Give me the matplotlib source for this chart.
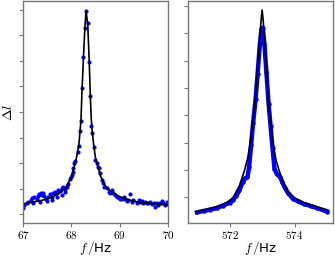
import matplotlib
matplotlib.use("Agg")
import matplotlib.pyplot as plt
from matplotlib.ticker import FuncFormatter

plt.rcParams['mathtext.fontset'] = 'cm'

# left resonance (~68.3 Hz): measured points
left_f = [67.01, 67.02, 67.08, 67.11, 67.16, 67.18, 67.21, 67.23, 67.28, 67.32,
          67.34, 67.35, 67.37, 67.40, 67.42, 67.43, 67.48, 67.49, 67.52, 67.56,
          67.59, 67.60, 67.63, 67.66, 67.70, 67.71, 67.73, 67.77, 67.80, 67.81,
          67.83, 67.86, 67.87, 67.90, 67.94, 67.97, 67.99, 68.01, 68.03, 68.04,
          68.06, 68.08, 68.13, 68.16, 68.18, 68.20, 68.22, 68.25, 68.28, 68.304,
          68.34, 68.37, 68.39, 68.41, 68.43, 68.46, 68.48, 68.53, 68.56, 68.58,
          68.59, 68.63, 68.66, 68.68, 68.73, 68.77, 68.80, 68.84, 68.87, 68.90,
          68.94, 68.97, 69.01, 69.04, 69.08, 69.11, 69.15, 69.18, 69.22, 69.25,
          69.28, 69.35, 69.39, 69.42, 69.46, 69.49, 69.53, 69.56, 69.59, 69.63,
          69.66, 69.70, 69.73, 69.77, 69.80, 69.84, 69.87, 69.90, 69.94, 69.98,
          70.01]
left_dl = [0.22, 0.35, 0.42, 0.48, 0.55, 0.64, 0.44, 0.68, 0.61, 0.71,
           0.77, 0.48, 0.81, 0.75, 0.81, 0.71, 0.61, 0.52, 0.65, 0.77,
           0.68, 0.56, 0.81, 0.87, 0.84, 0.66, 0.94, 0.91, 1.01, 0.76,
           1.05, 0.97, 0.87, 1.07, 1.18, 1.36, 1.46, 1.53, 1.66, 1.79,
           1.99, 2.08, 2.42, 2.68, 3.25, 3.66, 4.93, 6.17, 7.28, 7.97,
           7.50, 5.97, 4.63, 3.45, 3.19, 2.64, 2.12, 1.99, 1.86, 1.79,
           1.60, 1.33, 1.20, 1.07, 1.01, 0.87, 0.81, 0.94, 0.81, 0.75,
           0.65, 0.68, 0.58, 0.61, 0.65, 0.58, 0.52, 0.55, 0.78, 0.48,
           0.55, 0.44, 0.55, 0.48, 0.52, 0.44, 0.48, 0.42, 0.44, 0.48,
           0.39, 0.44, 0.29, 0.42, 0.35, 0.42, 0.52, 0.44, 0.35, 0.48,
           0.39]

# left fit curve
left_fit_f = [67.0, 67.2, 67.4, 67.6, 67.8, 67.9, 68.0, 68.06, 68.1, 68.13,
              68.16, 68.2, 68.22, 68.25, 68.28, 68.305, 68.34, 68.37, 68.39, 68.41,
              68.43, 68.46, 68.5, 68.6, 68.7, 68.8, 69.0, 69.2, 69.4, 69.7, 70.0]
left_fit_dl = [0.40, 0.47, 0.54, 0.66, 0.88, 1.08, 1.45, 1.85, 2.15, 2.45,
               2.8, 3.7, 4.8, 6.1, 7.3, 7.97, 7.4, 6.0, 4.8, 3.8,
               3.3, 2.75, 2.2, 1.5, 1.12, 0.92, 0.68, 0.55, 0.46, 0.40, 0.36]

# right resonance (~573 Hz): dense measured trace
right_f = [571.0, 571.2, 571.4, 571.6, 571.8, 572.0, 572.1, 572.2, 572.3, 572.4,
           572.48, 572.55, 572.6, 572.66, 572.72, 572.8, 572.86, 572.93, 572.98, 573.02,
           573.07, 573.13, 573.2, 573.26, 573.32, 573.38, 573.45, 573.55, 573.62, 573.7,
           573.8, 573.95, 574.1, 574.3, 574.5, 574.7, 574.9, 575.0]
right_dl = [-0.55, -0.5, -0.45, -0.4, -0.3, -0.2, -0.1, 0.05, 0.25, 0.55,
            0.7, 0.75, 1.1, 1.9, 2.7, 3.6, 4.5, 5.6, 6.15, 6.2,
            5.6, 4.6, 3.4, 2.6, 1.8, 1.05, 0.85, 0.75, 0.55, 0.35,
            0.15, -0.05, -0.15, -0.25, -0.32, -0.4, -0.48, -0.52]

# right fit curve
right_fit_f = [570.95, 571.3, 571.6, 571.9, 572.1, 572.3, 572.46, 572.56, 572.64, 572.72,
               572.8, 572.86, 572.93, 572.97, 573.0, 573.03, 573.07, 573.14, 573.2, 573.26,
               573.32, 573.42, 573.52, 573.65, 573.8, 574.0, 574.3, 574.6, 575.0]
right_fit_dl = [-0.53, -0.44, -0.34, -0.2, -0.02, 0.42, 0.99, 1.45, 2.05, 2.8,
                3.75, 4.75, 5.9, 6.5, 6.85, 6.5, 5.9, 4.75, 3.35, 2.8,
                2.05, 1.4, 0.99, 0.55, 0.2, -0.02, -0.2, -0.32, -0.47]

fig = plt.figure(figsize=(3.35, 2.57), dpi=100)
ax1 = fig.add_axes([23 / 335, 34 / 257, 145 / 335, 222 / 257])
ax2 = fig.add_axes([188 / 335, 34 / 257, 145 / 335, 222 / 257])

ax1.plot(left_f, left_dl, 'o', color='blue', ms=3.0, mew=0)
ax1.plot(left_fit_f, left_fit_dl, color='black', lw=1.2)
ax1.set_xlim(67, 70)
ax1.set_ylim(-0.35, 8.35)
ax1.set_xticks([67, 68, 69, 70])
ax1.set_yticks(range(9))
ax1.set_ylabel(r'$\Delta l$', fontsize=10, labelpad=1)

ax2.plot(right_f, right_dl, '-o', color='blue', lw=3.2, ms=3.2, mew=0)
ax2.plot(right_fit_f, right_fit_dl, color='black', lw=1.2)
ax2.set_xlim(570.72, 575.18)
ax2.set_ylim(-0.94, 7.18)
ax2.set_xticks([572, 574])
ax2.set_yticks(range(8))

fmt = FuncFormatter(lambda v, p: '$%d$' % round(v))
for ax in (ax1, ax2):
    ax.xaxis.set_major_formatter(fmt)
    ax.set_yticklabels([])
    ax.set_xlabel(r'$f\,/$Hz', fontsize=9.5, labelpad=-1.5)
    ax.tick_params(direction='out', length=3, width=0.8, color='#777777',
                   labelsize=8, pad=1.5)
    for s in ax.spines.values():
        s.set_color('#777777')
        s.set_linewidth(1.0)

fig.savefig('out.png', dpi=100)
